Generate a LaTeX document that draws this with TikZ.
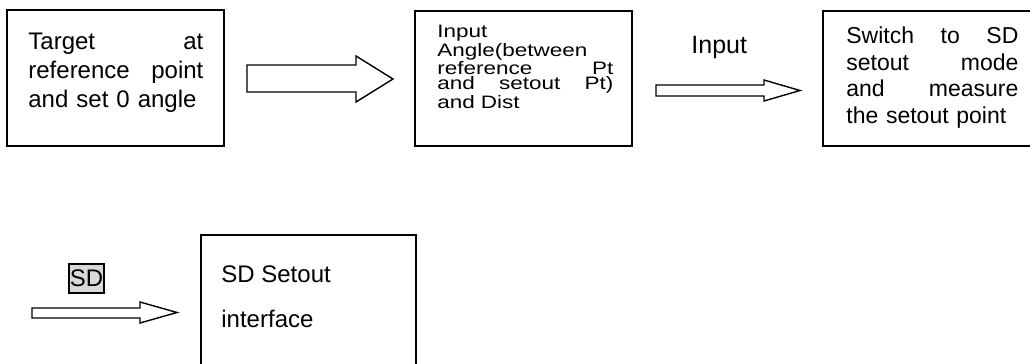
\documentclass[tikz,border=0pt]{standalone}
\usepackage{fontspec}
\setmainfont{Liberation Sans}
\newfontfamily\widefont[FakeStretch=1.25]{Liberation Sans}
\definecolor{keygray}{RGB}{217,217,217}
\tikzset{
	blockarrow/.style={draw, line width=0.7pt, fill=white, line join=miter},
	stepbox/.style={draw, line width=0.75pt},
	boxtext/.style={anchor=north west, inner sep=0pt, align=left},
}
\begin{document}
\begin{tikzpicture}[x=0.5pt,y=0.5pt,yscale=-1,xscale=1]
			\useasboundingbox (0,0) rectangle (1030,364);
			\clip (0,0) rectangle (1030,364);

			%Shape: Rectangle
			\draw [stepbox] (7,10) rectangle (224,146) ;
			%Shape: Rectangle
			\draw [stepbox] (415,11) rectangle (632,146) ;
			%Shape: Rectangle
			\draw [stepbox] (823,11) rectangle (1045,146) ;
			%Shape: Rectangle
			\draw [stepbox] (201,235) rectangle (416,380) ;

			%Shape: Right Arrow
			\draw [blockarrow] (247,65) -- (356,65) -- (356,56) -- (393,79) -- (356,102) -- (356,92) -- (247,92) -- cycle ;
			%Shape: Right Arrow
			\draw [blockarrow] (656,85) -- (764,85) -- (764,80) -- (800,90.5) -- (764,101) -- (764,96) -- (656,96) -- cycle ;
			%Shape: Right Arrow
			\draw [blockarrow] (32,308) -- (140,308) -- (140,302) -- (177,312.5) -- (140,323) -- (140,318) -- (32,318) -- cycle ;

			% Text Node
			\node [boxtext, text width=87.5pt, font=\fontsize{12}{14.5}\selectfont] (target) at (28,32.5)
				{Target \hfill at\\ reference \hfill point\\ and set 0 angle};
			% Text Node
			\node [boxtext, text width=88pt, font=\widefont\fontsize{9}{7.5}\selectfont] (angleinput) at (437,24.5)
				{Input\\ Angle(between\\ reference \hfill Pt\\ and \hfill setout \hfill Pt)\\ and Dist};
			% Text Node
			\node [boxtext, text width=86pt, font=\fontsize{11.5}{13.25}\selectfont] (switchsd) at (846,26.5)
				{Switch \hfill to \hfill SD\\ setout \hfill mode\\ and \hfill measure\\ the setout point};
			% Text Node
			\node [boxtext, font=\fontsize{12}{22.5}\selectfont] (sdsetout) at (221,265.5)
				{SD Setout\\ interface};
			% Text Node
			\node [anchor=north west, inner sep=0pt, font=\fontsize{12.5}{15}\selectfont] (inputlabel) at (691,36) {Input};
			% Text Node
			\node [draw, line width=0.6pt, fill=keygray, inner sep=0pt, minimum width=17.5pt, minimum height=14.5pt,
				font=\fontsize{12}{14}\selectfont] (sdkey) at (86.5,278.5) {SD};

\end{tikzpicture}
\end{document}
